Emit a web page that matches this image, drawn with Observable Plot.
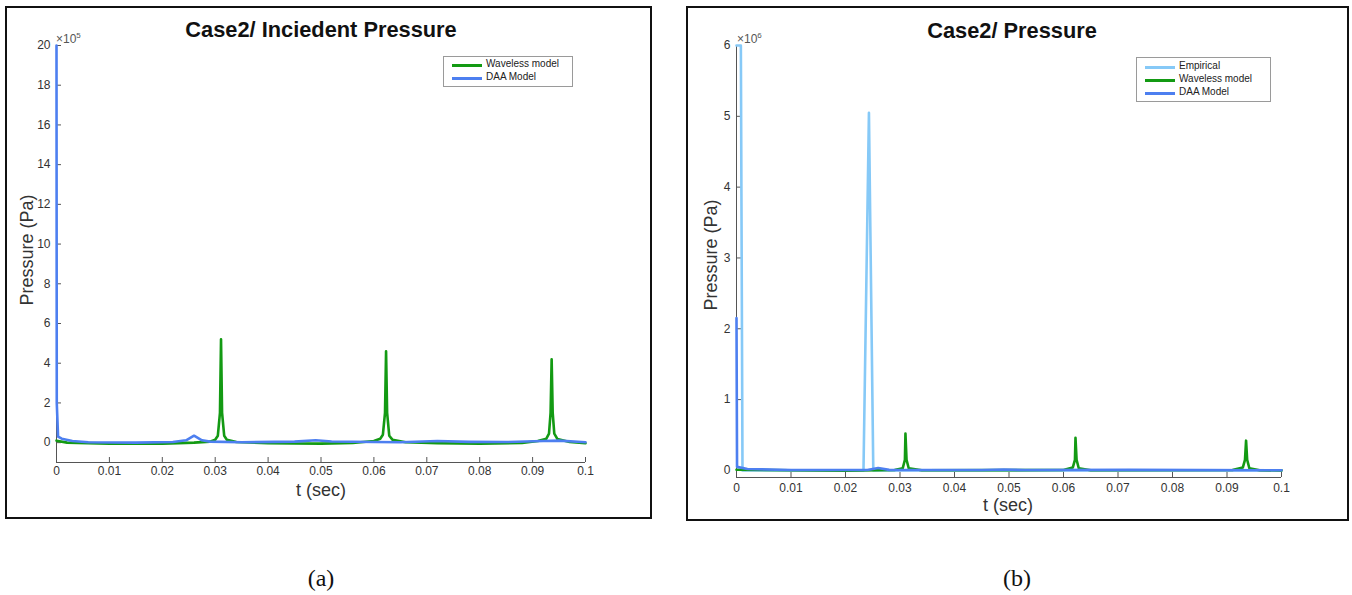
<!DOCTYPE html>
<html>
<head>
<meta charset="utf-8">
<script src="https://cdn.jsdelivr.net/npm/d3@7"></script>
<script src="https://cdn.jsdelivr.net/npm/@observablehq/plot@0.6"></script>
<style>
  html, body { margin: 0; padding: 0; background: #fff; }
  #root { position: relative; width: 1352px; height: 595px; font-family: "Liberation Sans", Arial, sans-serif; overflow: hidden; }
  .box { position: absolute; border: 2px solid #111; box-sizing: border-box; }
  .title { position: absolute; font-weight: bold; font-size: 21.8px; color: #111; transform: translate(-50%, -50%); white-space: nowrap; }
  .xlabel { position: absolute; font-size: 18px; color: #333; transform: translate(-50%, -50%); white-space: nowrap; }
  .ylabel { position: absolute; font-size: 18px; color: #333; transform: translate(-50%, -50%) rotate(-90deg); white-space: nowrap; }
  .expo { position: absolute; font-size: 12px; color: #555; white-space: nowrap; }
  .legend { position: absolute; border: 1px solid #9a9a9a; background: #fff; box-sizing: border-box; font-size: 10px; color: #222; }
  .legend .row { position: absolute; left: 0; height: 12px; white-space: nowrap; }
  .legend .sw { position: absolute; left: 8px; top: 5px; width: 30px; height: 2.5px; }
  .legend .lb { position: absolute; left: 42px; top: -1px; }
  .cap { position: absolute; font-family: "Liberation Serif", "Times New Roman", serif; font-size: 24px; color: #111; transform: translate(-50%, -50%); }
</style>
</head>
<body>
<div id="root"></div>
<script>
// ---------- data ----------
// Panel (a): pressure in units of 1e5 Pa
const aWavelessT = [0, 0.002, 0.01, 0.02, 0.026, 0.029, 0.030, 0.0305, 0.0309, 0.0311, 0.0313, 0.0317, 0.0322, 0.034, 0.04, 0.05, 0.056, 0.06, 0.0612, 0.0617, 0.0621, 0.0623, 0.0625, 0.0629, 0.0635, 0.066, 0.072, 0.08, 0.088, 0.091, 0.0926, 0.0931, 0.0934, 0.0936, 0.0938, 0.0941, 0.0947, 0.097, 0.1];
const aWavelessP = [0.1, 0.0, -0.05, -0.05, 0.0, 0.05, 0.15, 0.35, 1.5, 5.2, 1.5, 0.35, 0.15, 0.03, -0.03, -0.05, -0.02, 0.08, 0.2, 0.4, 1.5, 4.6, 1.5, 0.35, 0.15, 0.02, -0.03, -0.05, -0.02, 0.08, 0.2, 0.45, 1.5, 4.2, 1.5, 0.45, 0.18, 0.03, -0.03];
const aDaaT = [0, 0.00005, 0.0003, 0.001, 0.003, 0.006, 0.015, 0.022, 0.0245, 0.026, 0.0275, 0.029, 0.035, 0.045, 0.049, 0.052, 0.06, 0.065, 0.072, 0.078, 0.085, 0.092, 0.095, 0.1];
const aDaaP = [20, 2.0, 0.3, 0.2, 0.08, 0.02, 0.0, 0.03, 0.12, 0.35, 0.12, 0.05, 0.02, 0.05, 0.12, 0.06, 0.03, 0.02, 0.08, 0.04, 0.03, 0.08, 0.1, 0.02];
const aYTicks = [0, 2, 4, 6, 8, 10, 12, 14, 16, 18, 20];
const aYDomain = [-1, 20];

// Panel (b): pressure in units of 1e6 Pa
const bEmpT = [0, 0.0008, 0.0011, 0.0233, 0.0243, 0.0251, 0.1];
const bEmpP = [6.0, 6.0, 0.0, 0.0, 5.05, 0.0, 0.0];
const bWavelessT = [0, 0.02, 0.029, 0.0305, 0.0309, 0.031, 0.0312, 0.0316, 0.034, 0.06, 0.0617, 0.0621, 0.0622, 0.0624, 0.0628, 0.065, 0.091, 0.0929, 0.0933, 0.0935, 0.0937, 0.0941, 0.096, 0.1];
const bWavelessP = [0.01, -0.005, 0.005, 0.03, 0.15, 0.52, 0.15, 0.03, 0.003, 0.005, 0.04, 0.15, 0.46, 0.15, 0.03, 0.003, 0.005, 0.04, 0.15, 0.42, 0.15, 0.03, 0.003, 0.0];
const bDaaT = [0, 0.0001, 0.002, 0.01, 0.024, 0.026, 0.028, 0.045, 0.049, 0.053, 0.072, 0.1];
const bDaaP = [2.15, 0.05, 0.02, 0.005, 0.005, 0.035, 0.008, 0.005, 0.012, 0.005, 0.008, 0.002];
const bYTicks = [0, 1, 2, 3, 4, 5, 6];
const bYDomain = [-0.1, 6];

const xTicks = [0, 0.01, 0.02, 0.03, 0.04, 0.05, 0.06, 0.07, 0.08, 0.09, 0.1];
const xDomain = [0, 0.1];

const cWaveless = "#139a13";
const cDaa = "#4d7ff0";
const cEmp = "#86c9f7";

const zip = (T, P) => T.map((t, i) => ({t, p: P[i]}));

const root = document.getElementById("root");
function add(html) { root.insertAdjacentHTML("beforeend", html); }

function panel({left, top, width, height, ml, mr, mt, mb, yDomain, yTicks, series, padX}) {
  const axisColor = "#555";
  const marks = [];
  marks.push(Plot.ruleX([xDomain[0]], {stroke: axisColor, strokeWidth: 1}));
  marks.push(Plot.ruleY([yDomain[0]], {stroke: axisColor, strokeWidth: 1}));
  marks.push(Plot.axisX({ticks: xTicks, tickSize: -5, tickPadding: padX, tickFormat: d => String(d), fontSize: 12, color: "#333", stroke: axisColor, label: null}));
  marks.push(Plot.axisY({ticks: yTicks, tickSize: -5, tickPadding: 11, tickFormat: d => String(d), fontSize: 12, color: "#333", stroke: axisColor, label: null}));
  for (const s of series) {
    marks.push(Plot.line(s.data, {x: "t", y: "p", stroke: s.color, strokeWidth: 2.6, curve: "linear"}));
  }
  const svg = Plot.plot({
    width, height,
    marginLeft: ml, marginRight: mr, marginTop: mt, marginBottom: mb,
    style: {fontFamily: "Liberation Sans, Arial, sans-serif", background: "transparent", overflow: "visible"},
    x: {domain: xDomain},
    y: {domain: yDomain},
    marks
  });
  svg.style.position = "absolute";
  svg.style.left = left + "px";
  svg.style.top = top + "px";
  root.appendChild(svg);
}

// Frames
add(`<div class="box" style="left:5px;top:6px;width:647px;height:513px"></div>`);
add(`<div class="box" style="left:686px;top:6px;width:663px;height:515px"></div>`);

// Panel (a)
panel({
  left: 0, top: 0, width: 660, height: 520,
  ml: 56, mr: 75, mt: 45, mb: 58, padX: 9,
  yDomain: aYDomain, yTicks: aYTicks,
  series: [
    {data: zip(aWavelessT, aWavelessP), color: cWaveless},
    {data: zip(aDaaT, aDaaP), color: cDaa}
  ]
});
// Panel (b)
panel({
  left: 680, top: 0, width: 672, height: 525,
  ml: 56, mr: 71, mt: 45, mb: 48, padX: 11,
  yDomain: bYDomain, yTicks: bYTicks,
  series: [
    {data: zip(bEmpT, bEmpP), color: cEmp},
    {data: zip(bWavelessT, bWavelessP), color: cWaveless},
    {data: zip(bDaaT, bDaaP), color: cDaa}
  ]
});

// Texts panel (a)
add(`<div class="title" style="left:321px;top:30px">Case2/ Inciedent Pressure</div>`);
add(`<div class="expo" style="left:56px;top:31px">×10<sup style="font-size:8px">5</sup></div>`);
add(`<div class="xlabel" style="left:321px;top:490px">t (sec)</div>`);
add(`<div class="ylabel" style="left:27px;top:250px">Pressure (Pa)</div>`);
add(`<div class="legend" style="left:443px;top:56px;width:130px;height:31px">
  <div class="row" style="top:2px"><div class="sw" style="background:${cWaveless}"></div><div class="lb">Waveless model</div></div>
  <div class="row" style="top:15px"><div class="sw" style="background:${cDaa}"></div><div class="lb">DAA Model</div></div>
</div>`);

// Texts panel (b)
add(`<div class="title" style="left:1012px;top:31px">Case2/ Pressure</div>`);
add(`<div class="expo" style="left:737px;top:31px">×10<sup style="font-size:8px">6</sup></div>`);
add(`<div class="xlabel" style="left:1008px;top:505px">t (sec)</div>`);
add(`<div class="ylabel" style="left:711px;top:255px">Pressure (Pa)</div>`);
add(`<div class="legend" style="left:1136px;top:57px;width:135px;height:45px">
  <div class="row" style="top:3px"><div class="sw" style="background:${cEmp}"></div><div class="lb">Empirical</div></div>
  <div class="row" style="top:16px"><div class="sw" style="background:${cWaveless}"></div><div class="lb">Waveless model</div></div>
  <div class="row" style="top:29px"><div class="sw" style="background:${cDaa}"></div><div class="lb">DAA Model</div></div>
</div>`);

// Captions
add(`<div class="cap" style="left:321px;top:578px">(a)</div>`);
add(`<div class="cap" style="left:1017px;top:578px">(b)</div>`);
</script>
</body>
</html>
